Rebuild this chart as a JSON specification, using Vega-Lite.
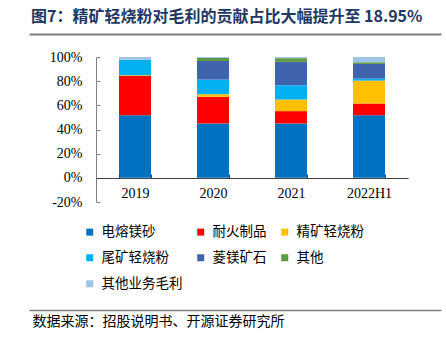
{
  "$schema": "https://vega.github.io/schema/vega-lite/v6.json",
  "width": 312,
  "height": 145,
  "autosize": {"type": "none"},
  "padding": {"left": 96, "top": 57, "right": 38, "bottom": 139},
  "background": "white",
  "config": {
    "view": {"stroke": null},
    "font": "Noto Sans CJK SC"
  },
  "title": {
    "text": "图7：精矿轻烧粉对毛利的贡献占比大幅提升至 18.95%",
    "anchor": "start",
    "frame": "group",
    "dx": -65,
    "offset": 9,
    "fontSize": 16,
    "fontWeight": "bold",
    "color": "#1F3864",
    "font": "Noto Sans CJK SC"
  },
  "data": {
    "values": [
      {"year": "2019", "s": "电熔镁砂", "k": 1, "v": 51.8},
      {"year": "2019", "s": "耐火制品", "k": 2, "v": 32.5},
      {"year": "2019", "s": "精矿轻烧粉", "k": 3, "v": 0.7},
      {"year": "2019", "s": "尾矿轻烧粉", "k": 4, "v": 12.8},
      {"year": "2019", "s": "菱镁矿石", "k": 5, "v": 0},
      {"year": "2019", "s": "其他", "k": 6, "v": 0},
      {"year": "2019", "s": "其他业务毛利", "k": 7, "v": 2.2},
      {"year": "2020", "s": "电熔镁砂", "k": 1, "v": 45.0},
      {"year": "2020", "s": "耐火制品", "k": 2, "v": 22.0},
      {"year": "2020", "s": "精矿轻烧粉", "k": 3, "v": 2.2},
      {"year": "2020", "s": "尾矿轻烧粉", "k": 4, "v": 12.1},
      {"year": "2020", "s": "菱镁矿石", "k": 5, "v": 15.4},
      {"year": "2020", "s": "其他", "k": 6, "v": 2.5},
      {"year": "2020", "s": "其他业务毛利", "k": 7, "v": 0.8},
      {"year": "2021", "s": "电熔镁砂", "k": 1, "v": 45.0},
      {"year": "2021", "s": "耐火制品", "k": 2, "v": 10.2},
      {"year": "2021", "s": "精矿轻烧粉", "k": 3, "v": 9.6},
      {"year": "2021", "s": "尾矿轻烧粉", "k": 4, "v": 11.8},
      {"year": "2021", "s": "菱镁矿石", "k": 5, "v": 19.4},
      {"year": "2021", "s": "其他", "k": 6, "v": 3.0},
      {"year": "2021", "s": "其他业务毛利", "k": 7, "v": 1.0},
      {"year": "2022H1", "s": "电熔镁砂", "k": 1, "v": 51.8},
      {"year": "2022H1", "s": "耐火制品", "k": 2, "v": 9.7},
      {"year": "2022H1", "s": "精矿轻烧粉", "k": 3, "v": 18.95},
      {"year": "2022H1", "s": "尾矿轻烧粉", "k": 4, "v": 1.7},
      {"year": "2022H1", "s": "菱镁矿石", "k": 5, "v": 12.1},
      {"year": "2022H1", "s": "其他", "k": 6, "v": 1.4},
      {"year": "2022H1", "s": "其他业务毛利", "k": 7, "v": 4.35}
    ]
  },
  "layer": [
    {
      "mark": {"type": "bar"},
      "encoding": {
        "x": {
          "field": "year",
          "type": "nominal",
          "sort": null,
          "scale": {"paddingInner": 0.59, "paddingOuter": 0.295},
          "axis": {
            "orient": "bottom",
            "offset": -24,
            "title": null,
            "labelAngle": 0,
            "labelFont": "Liberation Serif",
            "labelFontSize": 14,
            "labelColor": "#000000",
            "labelPadding": 12,
            "tickBand": "extent",
            "tickSize": -4,
            "tickColor": "#404040",
            "domainColor": "#404040",
            "zindex": 1
          }
        },
        "y": {
          "field": "v",
          "type": "quantitative",
          "stack": "zero",
          "scale": {"domain": [-20, 100], "nice": false},
          "axis": {
            "title": null,
            "values": [-20, 0, 20, 40, 60, 80, 100],
            "labelExpr": "datum.value + '%'",
            "labelFont": "Liberation Serif",
            "labelFontSize": 14,
            "labelColor": "#000000",
            "labelPadding": 18,
            "tickSize": -4,
            "tickColor": "#808080",
            "domainColor": "#808080",
            "grid": false
          }
        },
        "order": {"field": "k", "type": "quantitative", "sort": "ascending"},
        "color": {
          "field": "s",
          "type": "nominal",
          "scale": {
            "domain": ["电熔镁砂", "耐火制品", "精矿轻烧粉", "尾矿轻烧粉", "菱镁矿石", "其他", "其他业务毛利"],
            "range": ["#0070C0", "#FF0000", "#FFC000", "#00B0F0", "#3F63AD", "#5E9B40", "#9DC3E6"]
          },
          "legend": {
            "title": null,
            "orient": "none",
            "legendX": -13,
            "legendY": 168,
            "direction": "horizontal",
            "columns": 3,
            "gridAlign": "each",
            "columnPadding": 11,
            "rowPadding": 11,
            "symbolType": "square",
            "symbolSize": 49,
            "symbolStrokeWidth": 0,
            "labelFont": "Noto Sans CJK SC",
            "labelFontSize": 13.5,
            "labelColor": "#000000",
            "labelOffset": 5,
            "labelLimit": 200,
            "padding": 0
          }
        }
      }
    },
    {
      "mark": {"type": "text", "opacity": 0},
      "encoding": {
        "x": {
          "field": "year",
          "type": "nominal",
          "sort": null,
          "scale": {"type": "point", "range": [-67, 345], "padding": 0},
          "axis": {
            "orient": "top",
            "offset": 23,
            "title": null,
            "labels": false,
            "ticks": false,
            "domain": true,
            "domainColor": "#7F7F7F",
            "domainWidth": 2
          }
        },
        "text": {"value": ""}
      }
    },
    {
      "mark": {"type": "text", "opacity": 0},
      "encoding": {
        "x": {
          "field": "year",
          "type": "nominal",
          "sort": null,
          "scale": {"type": "point", "range": [-67, 345], "padding": 0},
          "axis": {
            "orient": "bottom",
            "offset": 108,
            "title": "数据来源：招股说明书、开源证券研究所",
            "titleAnchor": "start",
            "titleAlign": "left",
            "titleX": -64,
            "titleY": 11,
            "titleBaseline": "middle",
            "titleFont": "Noto Sans CJK SC",
            "titleFontSize": 14,
            "titleFontWeight": "normal",
            "titleColor": "#000000",
            "labels": false,
            "ticks": false,
            "domainColor": "#7F7F7F",
            "domainWidth": 1.5
          }
        },
        "text": {"value": ""}
      }
    }
  ],
  "resolve": {"scale": {"x": "independent"}, "axis": {"x": "independent"}}
}
